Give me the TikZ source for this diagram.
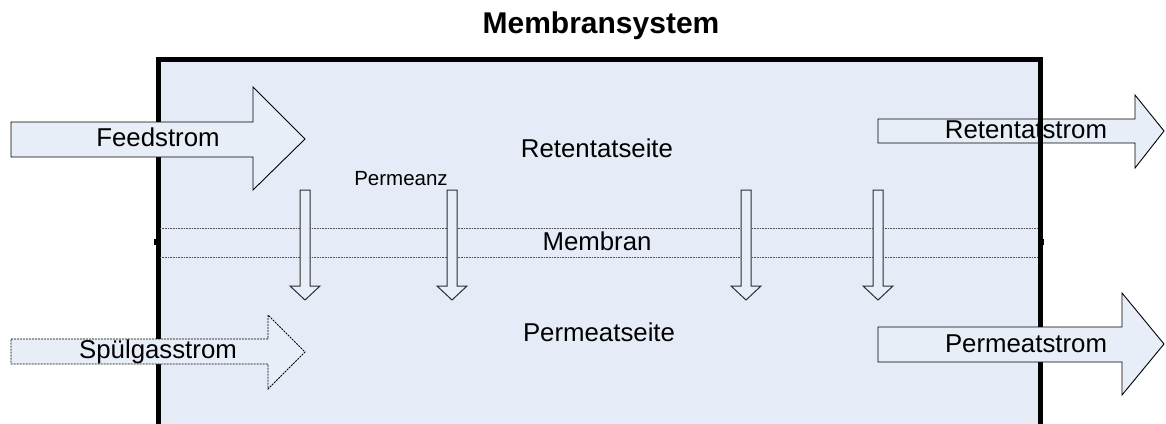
\documentclass[tikz,border=0pt]{standalone}
\usepackage{fontspec}
\setmainfont{Liberation Sans}
\definecolor{boxfill}{RGB}{230,236,247}
\definecolor{arrowfill}{RGB}{232,238,248}
\definecolor{edgegray}{RGB}{45,45,45}
\definecolor{membgray}{RGB}{80,80,80}
\begin{document}
\begin{tikzpicture}[x=1pt,y=-1pt,
  flow/.style={draw=black, line width=0.9pt, fill=arrowfill, line join=miter},
  flowdashed/.style={flow, dash pattern=on 2pt off 1pt, line width=0.8pt},
  membrane/.style={draw=membgray, line width=1pt, dash pattern=on 1pt off 0.6pt},
  border/.style={draw=black, line width=5pt, line join=miter},
  label/.style={anchor=base, inner sep=0pt, font=\fontsize{25.8}{30}\selectfont},
  permarrow/.style={draw=edgegray, line width=1pt, fill=arrowfill, line join=miter},
  permeation/.pic={
    \path[permarrow] (-5,0) -- (5,0) -- (5,96) -- (15,96) -- (0,110)
      -- (-15,96) -- (-5,96) -- cycle;
  }]
\useasboundingbox (0,0) rectangle (1166,423);

% membrane module body
\fill[boxfill] (158,59) rectangle (1040,426);

% retentate outlet lies under the module wall
\path[flow] (878,119) -- (1135,119) -- (1135,95) -- (1164,131)
  -- (1135,168) -- (1135,143) -- (878,143) -- cycle;

% module wall (open at the bottom)
\draw[border] (158,430) -- (158,59) -- (1040,59) -- (1040,430);

% membrane layer
\draw[membrane] (160,228) -- (1038,228);
\draw[membrane] (160,257) -- (1038,257);
\fill (154,239) rectangle (158,245);
\fill (1040,239) rectangle (1044,245);

% permeation through the membrane
\pic (p1) at (305,190) {permeation};
\pic (p2) at (452,190) {permeation};
\pic (p3) at (746,190) {permeation};
\pic (p4) at (878,190) {permeation};

% feed inlet
\path[flow] (11,122) -- (253,122) -- (253,87) -- (305,139)
  -- (253,190) -- (253,157) -- (11,157) -- cycle;

% sweep gas inlet
\path[flowdashed] (11,339) -- (268,339) -- (268,315) -- (305,352)
  -- (268,389) -- (268,364) -- (11,364) -- cycle;

% permeate outlet
\path[flow] (878,327) -- (1122,327) -- (1122,293) -- (1164,344)
  -- (1122,395) -- (1122,362) -- (878,362) -- cycle;

% labels
\node[anchor=base, inner sep=0pt, font=\bfseries\fontsize{30}{36}\selectfont] (title) at (601,33) {Membransystem};
\node[label] (feed) at (158,146.7) {Feedstrom};
\node[label] (ret) at (1026,138) {Retentatstrom};
\node[label] (sweep) at (158,358) {Spülgasstrom};
\node[label] (perm) at (1026,352) {Permeatstrom};
\node[label] (retside) at (597,157) {Retentatseite};
\node[label] (memb) at (597,250) {Membran};
\node[label] (permside) at (599,341) {Permeatseite};
\node[anchor=base, inner sep=0pt, font=\fontsize{20.5}{24}\selectfont] (permeanz) at (401,185) {Permeanz};
\end{tikzpicture}
\end{document}
